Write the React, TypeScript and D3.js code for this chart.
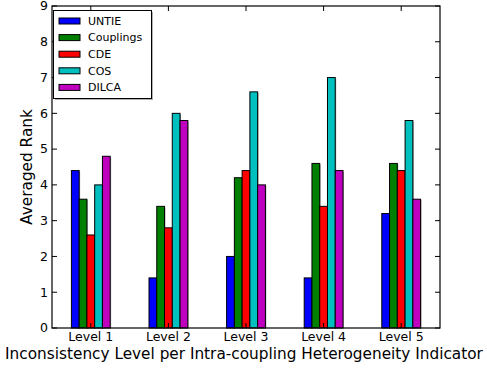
import { useEffect, useRef } from 'react';
import * as d3 from 'd3';

const levels = ['Level 1', 'Level 2', 'Level 3', 'Level 4', 'Level 5'];
const methods = ['UNTIE', 'Couplings', 'CDE', 'COS', 'DILCA'];
const untie = [4.4, 1.4, 2.0, 1.4, 3.2];
const couplings = [3.6, 3.4, 4.2, 4.6, 4.6];
const cde = [2.6, 2.8, 4.4, 3.4, 4.4];
const cos = [4.0, 6.0, 6.6, 7.0, 5.8];
const dilca = [4.8, 5.8, 4.0, 4.4, 3.6];
const yTicks = [0, 1, 2, 3, 4, 5, 6, 7, 8, 9];

const COLORS = ['#0000ff', '#008000', '#ff0000', '#00bfbf', '#bf00bf'];
const FONT = 'DejaVu Sans, sans-serif';

export default function App() {
  const ref = useRef<SVGSVGElement | null>(null);

  useEffect(() => {
    const W = 487, H = 368;
    const m = { left: 52, right: 47, top: 6, bottom: 40 };
    const svg = d3.select(ref.current!);
    svg.selectAll('*').remove();
    svg.attr('width', W).attr('height', H).attr('viewBox', `0 0 ${W} ${H}`);
    svg.append('rect').attr('width', W).attr('height', H).attr('fill', 'white');

    const series = [untie, couplings, cde, cos, dilca];
    const x = d3.scaleBand<string>().domain(levels).range([m.left, W - m.right]).paddingInner(0).paddingOuter(0);
    const inner = d3.scaleBand<string>().domain(methods).range([0, x.bandwidth() * 0.5]);
    const y = d3.scaleLinear().domain([0, 9]).range([H - m.bottom, m.top]);
    const x0 = m.left, x1 = W - m.right, y0 = H - m.bottom, y1 = m.top;

    const g = svg.append('g');
    series.forEach((vals, si) => {
      vals.forEach((v, li) => {
        const cx = x(levels[li])! + x.bandwidth() / 4;
        const bx = cx + inner(methods[si])!;
        // soft shadow
        g.append('rect').attr('x', bx + 1).attr('y', y(v) + 1).attr('width', inner.bandwidth())
          .attr('height', y(0) - y(v) - 1).attr('fill', '#b0b0b0');
        g.append('rect').attr('x', bx).attr('y', y(v)).attr('width', inner.bandwidth())
          .attr('height', y(0) - y(v)).attr('fill', COLORS[si]).attr('stroke', '#000').attr('stroke-width', 1);
      });
    });

    // frame
    svg.append('rect').attr('x', x0).attr('y', y1).attr('width', x1 - x0).attr('height', y0 - y1)
      .attr('fill', 'none').attr('stroke', '#000').attr('stroke-width', 1.2);

    // ticks point inward on all four sides
    const ax = svg.append('g').attr('font-family', FONT).attr('font-size', 12.5).attr('fill', '#000');
    yTicks.forEach((t) => {
      const yy = y(t);
      ax.append('line').attr('x1', x0).attr('x2', x0 + 5).attr('y1', yy).attr('y2', yy).attr('stroke', '#000');
      ax.append('line').attr('x1', x1).attr('x2', x1 - 5).attr('y1', yy).attr('y2', yy).attr('stroke', '#000');
      ax.append('text').attr('x', x0 - 4).attr('y', yy).attr('dy', '0.35em').attr('text-anchor', 'end').text(t);
    });
    levels.forEach((l) => {
      const xx = x(l)! + x.bandwidth() / 2;
      ax.append('line').attr('x1', xx).attr('x2', xx).attr('y1', y0).attr('y2', y0 - 5).attr('stroke', '#000');
      ax.append('line').attr('x1', xx).attr('x2', xx).attr('y1', y1).attr('y2', y1 + 5).attr('stroke', '#000');
      ax.append('text').attr('x', xx).attr('y', y0 + 13).attr('text-anchor', 'middle').text(l);
    });

    svg.append('text').attr('x', 244).attr('y', 358.5).attr('text-anchor', 'middle')
      .attr('font-family', FONT).attr('font-size', 15.3).text('Inconsistency Level per Intra-coupling Heterogeneity Indicator');
    svg.append('text').attr('transform', `translate(32,${(y0 + y1) / 2}) rotate(-90)`).attr('text-anchor', 'middle')
      .attr('font-family', FONT).attr('font-size', 15.3).text('Averaged Rank');

    // legend
    const lg = svg.append('g').attr('font-family', FONT).attr('font-size', 11);
    lg.append('rect').attr('x', 55).attr('y', 12).attr('width', 98).attr('height', 88).attr('fill', '#b0b0b0');
    lg.append('rect').attr('x', 53.5).attr('y', 10.5).attr('width', 98).attr('height', 88)
      .attr('fill', 'white').attr('stroke', '#000').attr('stroke-width', 1);
    methods.forEach((name, i) => {
      const yy = 21 + i * 16.6;
      lg.append('rect').attr('x', 59).attr('y', yy - 3).attr('width', 21).attr('height', 6)
        .attr('fill', COLORS[i]).attr('stroke', '#000').attr('stroke-width', 1);
      lg.append('text').attr('x', 88).attr('y', yy).attr('dy', '0.35em').text(name);
    });
  }, []);

  return <svg ref={ref} style={{ display: 'block', position: 'absolute', left: 0, top: 0 }} />;
}
